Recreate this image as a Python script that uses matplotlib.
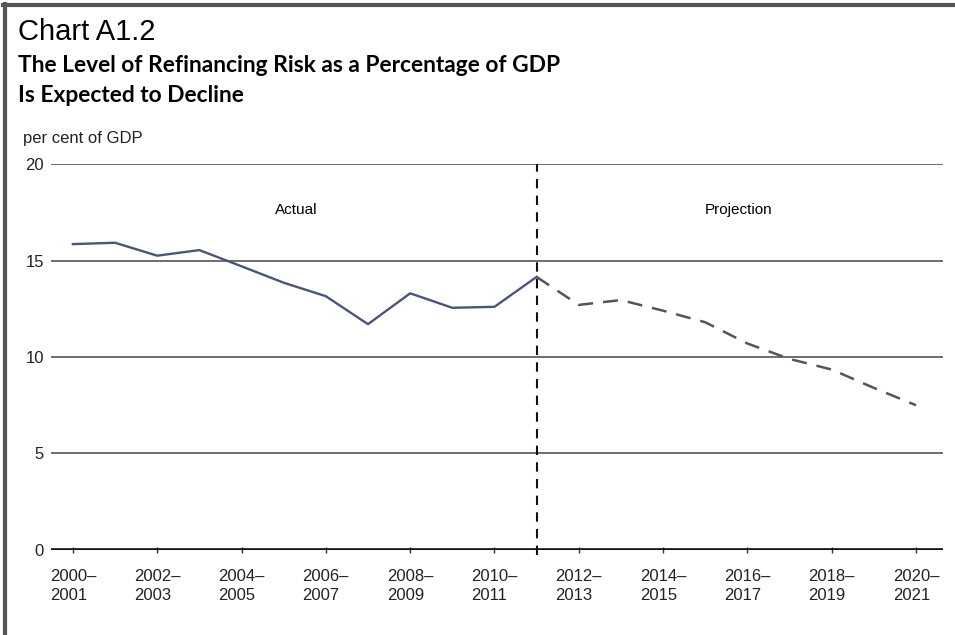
import numpy as np
import matplotlib
matplotlib.use('Agg')
import matplotlib.pyplot as plt

# fiscal years, one point per year
years = ['2000–\n2001', '2001–\n2002', '2002–\n2003', '2003–\n2004', '2004–\n2005',
         '2005–\n2006', '2006–\n2007', '2007–\n2008', '2008–\n2009', '2009–\n2010',
         '2010–\n2011', '2011–\n2012', '2012–\n2013', '2013–\n2014', '2014–\n2015',
         '2015–\n2016', '2016–\n2017', '2017–\n2018', '2018–\n2019', '2019–\n2020',
         '2020–\n2021']
actual = [15.85, 15.92, 15.25, 15.54, 14.7, 13.85, 13.15, 11.7, 13.3, 12.55, 12.6, 14.15]
projection = [14.15, 12.7, 12.95, 12.4, 11.8, 10.7, 9.9, 9.35, 8.4, 7.5]
yticks = [0, 5, 10, 15, 20]

x_actual = np.arange(len(actual))
split_index = len(actual) - 1
x_proj = np.arange(split_index, split_index + len(projection))

fig = plt.figure(figsize=(9.55, 6.35), dpi=100)
ax = fig.add_axes([0.0534, 0.1339, 0.9340, 0.6078])

for y in yticks[1:]:
    ax.axhline(y, color='#6e6e6e', linewidth=1.4, zorder=1)
ax.axhline(0, color='#111111', linewidth=2.6, zorder=3)

ax.axvline(split_index, ymin=-0.012, ymax=1, color='#111111', linewidth=1.5,
           linestyle=(0, (4.5, 3.5)), zorder=2, clip_on=False)

ax.plot(x_actual, actual, color='#4b5578', linewidth=1.7, zorder=4)
ax.plot(x_proj, projection, color='#555555', linewidth=1.8, linestyle=(0, (6, 4)), zorder=4)

ax.text(5.3, 17.6, 'Actual', ha='center', va='center', fontsize=11, family='Liberation Sans')
ax.text(15.8, 17.6, 'Projection', ha='center', va='center', fontsize=11, family='Liberation Sans')

ax.set_xlim(-0.52, 20.64)
ax.set_ylim(0, 20)
ax.set_yticks(yticks)
ax.set_yticklabels([str(v) for v in yticks], family='Liberation Sans', fontsize=12, color='#222222')
ax.set_xticks(np.arange(0, len(years), 2))
ax.set_xticklabels(years[::2], family='Liberation Sans', fontsize=12, color='#222222',
                   multialignment='left', linespacing=1.3)
ax.tick_params(axis='y', length=0, pad=5)
ax.tick_params(axis='x', length=4, width=1, direction='inout', pad=12, color='#333333')
for s in ax.spines.values():
    s.set_visible(False)

fig.text(0.019, 0.937, 'Chart A1.2', fontsize=21, family='Liberation Sans', va='baseline')
fig.text(0.019, 0.8866, 'The Level of Refinancing Risk as a Percentage of GDP',
         fontsize=16.4, family='Lato', weight='bold', va='baseline')
fig.text(0.019, 0.8394, 'Is Expected to Decline',
         fontsize=16.4, family='Lato', weight='bold', va='baseline')
fig.text(0.024, 0.775, 'per cent of GDP', fontsize=12, family='Liberation Sans', va='baseline',
         color='#222222')

# grey frame on left and top
fig.add_artist(plt.Line2D([0.005, 0.005], [0, 0.993], transform=fig.transFigure,
                          color='#555555', linewidth=3))
fig.add_artist(plt.Line2D([0.003, 1], [0.9925, 0.9925], transform=fig.transFigure,
                          color='#555555', linewidth=3))

fig.savefig('out.png', dpi=100)
